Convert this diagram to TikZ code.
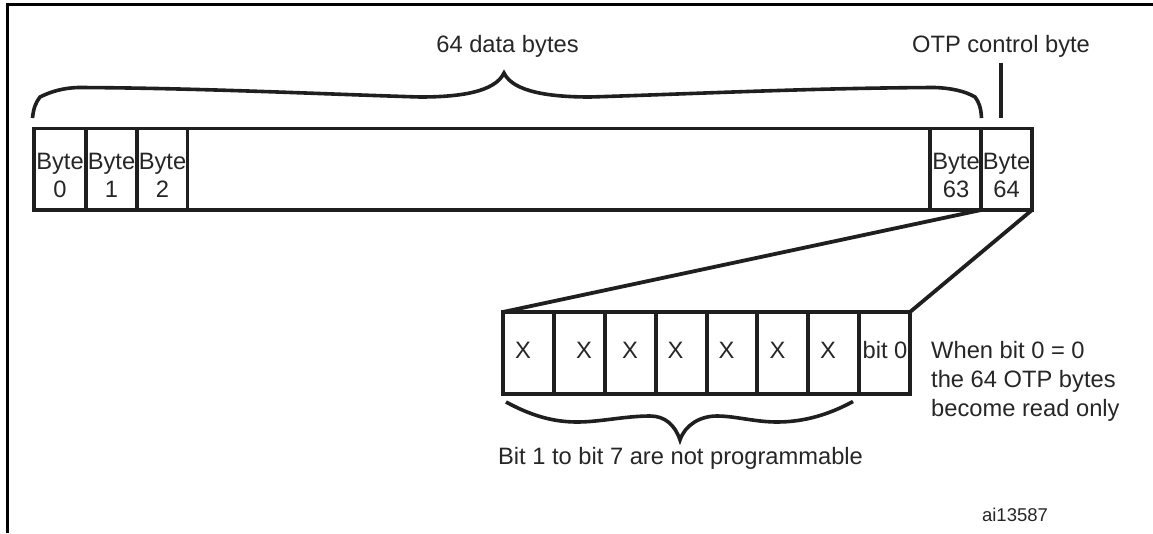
\documentclass[tikz,border=0pt]{standalone}
\usepackage{fontspec}
\setmainfont{Liberation Sans}
\tikzset{
  thick line/.style={line width=3.8pt,draw=black!88},
  frame line/.style={line width=3pt,draw=black},
  brace line/.style={line width=3.6pt,draw=black!88,line cap=butt},
  cell text/.style={font=\fontsize{23.7}{28}\selectfont,text=black!85,align=center,inner sep=0pt},
  small text/.style={font=\fontsize{18.5}{22}\selectfont,text=black!85,inner sep=0pt},
}
\begin{document}
\begin{tikzpicture}[x=1pt,y=-1pt]
\useasboundingbox (0,0) rectangle (1153,533);
\draw[frame line] (7.5,533) -- (7.5,4) -- (1153,4);
% top bar
\coordinate (tl) at (34,128.5);
\coordinate (br) at (1032,210);
\draw[thick line] (tl) rectangle (br);
\foreach \x in {86,137,187.5,930,981}
  \draw[thick line] (\x,128.5) -- (\x,210);
\node[cell text] (b0) at (60,175.5) {Byte\\0};
\node[cell text] (b1) at (111.5,175.5) {Byte\\1};
\node[cell text] (b2) at (162.5,175.5) {Byte\\2};
\node[cell text] (b63) at (956,175.5) {Byte\\63};
\node[cell text] (b64) at (1006.5,175.5) {Byte\\64};
% labels
\node[cell text,anchor=base] (data) at (507.5,52.7) {64 data bytes};
\node[cell text,anchor=base] (otp) at (1001,52.7) {OTP control byte};
\coordinate (otpa) at (1001,63);
\coordinate (otpb) at (1001,118);
\draw[thick line] (otpa) -- (otpb);
% top brace
\draw[brace line] (32.5,118) .. controls (33.5,108) and (36,102) .. (40,97)
  .. controls (52,91) and (64,88) .. (78,87.5)
  .. controls (200,88) and (320,94) .. (420,97)
  .. controls (460,97) and (495,92) .. (504,73)
  .. controls (513,92) and (550,97) .. (590,97)
  .. controls (690,94) and (810,88) .. (935,87.5)
  .. controls (950,88) and (965,91) .. (975,97)
  .. controls (979,102) and (981,108) .. (981.5,118);
% lower bar
\draw[thick line] (503,312) rectangle (910,394);
\foreach \x in {554,604.7,655.7,706.7,757,808,859}
  \draw[thick line] (\x,312) -- (\x,394);
\foreach \x/\n in {523/x1,584/x2,630/x3,675.5/x4,726.5/x5,777.5/x6,828/x7}
  \node[cell text,anchor=base] (\n) at (\x,358.3) {X};
\node[cell text,anchor=base] (bit) at (885,358.3) {bit 0};
\draw[thick line] (981,210) -- (503,312);
\draw[thick line] (1032,210) -- (910,312);
% lower brace
\draw[brace line] (506,402) .. controls (530,415) and (552,422) .. (577,422)
  .. controls (600,422) and (625,416) .. (650,416)
  .. controls (665,416) and (675,425) .. (680,440)
  .. controls (685,425) and (700,416) .. (717,416)
  .. controls (735,416) and (755,422) .. (777,422)
  .. controls (805,422) and (830,414) .. (853,401.5);
\node[cell text,anchor=base west] (note1) at (931,358) {When bit 0 = 0};
\node[cell text,anchor=base west] (note2) at (931,387) {the 64 OTP bytes};
\node[cell text,anchor=base west] (note3) at (931,416) {become read only};
\node[cell text,anchor=base] (bitnote) at (680.5,464) {Bit 1 to bit 7 are not programmable};
\node[small text,anchor=base] (ref) at (1015,521) {ai13587};
\end{tikzpicture}
\end{document}
